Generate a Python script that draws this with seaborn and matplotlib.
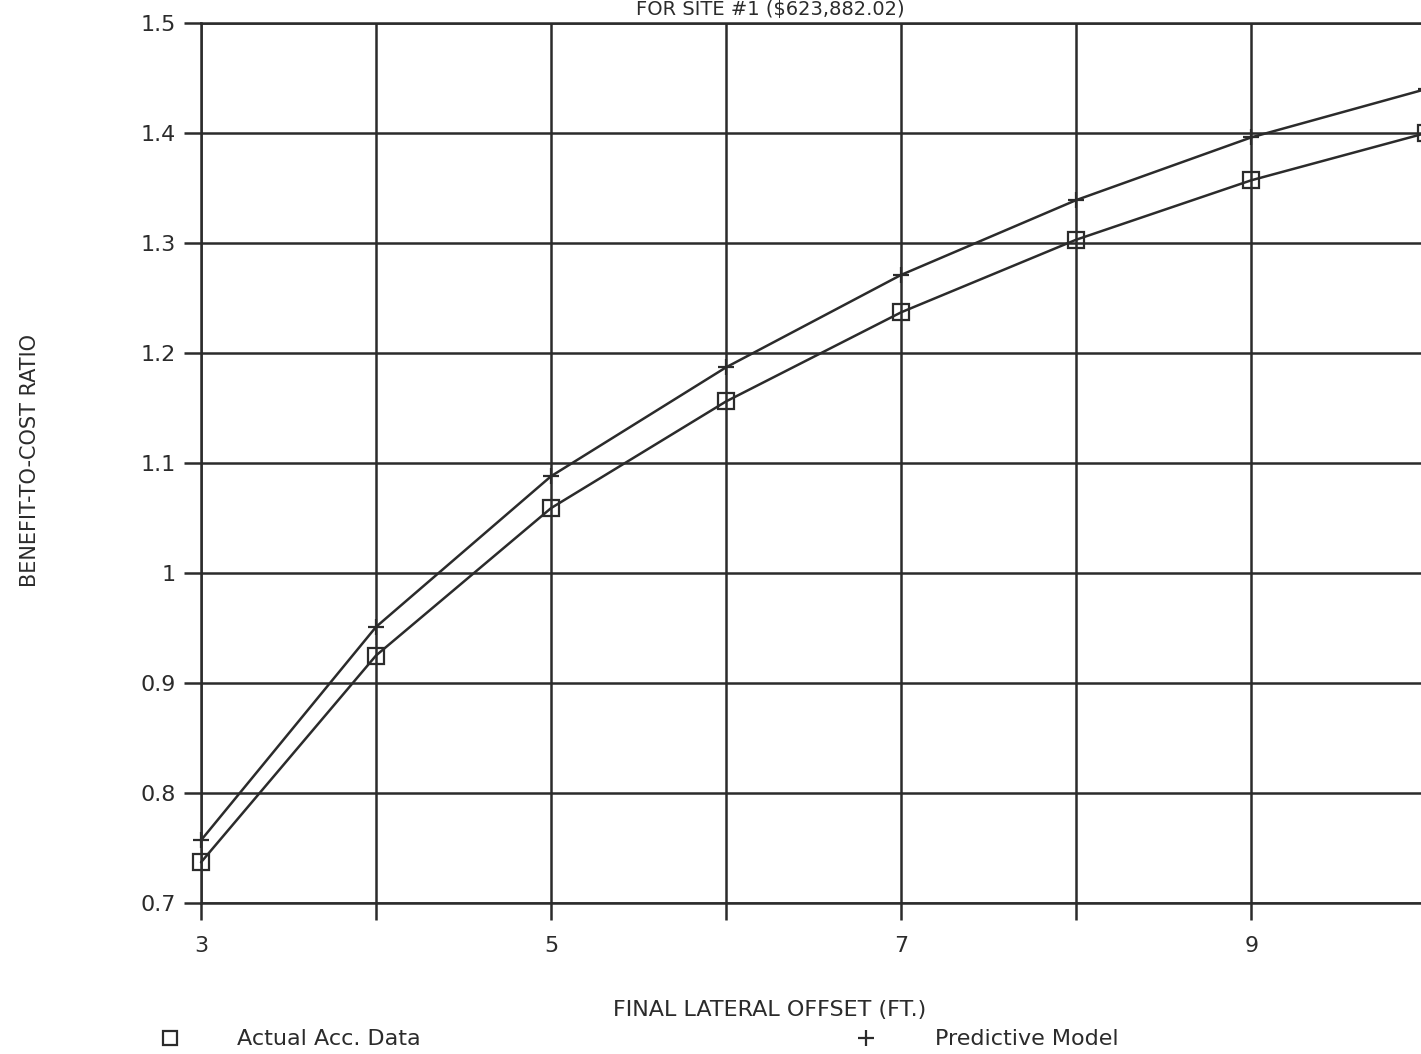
import numpy as np
import pandas as pd
import matplotlib
matplotlib.use("Agg")
import matplotlib.pyplot as plt
import seaborn as sns

offset = [3, 4, 5, 6, 7, 8, 9, 10]
actual = [0.737, 0.925, 1.059, 1.156, 1.237, 1.303, 1.357, 1.400]
predicted = [0.757, 0.951, 1.088, 1.187, 1.271, 1.339, 1.396, 1.440]
xticks = [3, 5, 7, 9]
yticks = [0.7, 0.8, 0.9, 1.0, 1.1, 1.2, 1.3, 1.4, 1.5]
ytick_labels = ["0.7", "0.8", "0.9", "1", "1.1", "1.2", "1.3", "1.4", "1.5"]

sns.set_theme(style="white")
plt.rcParams['font.family'] = ['DejaVu Sans']
ink = "#2b2b2b"

fig = plt.figure(figsize=(14.21, 10.54), dpi=100)
ax = fig.add_axes([201/1421, 1 - 903/1054, 1 - 201/1421, (903 - 23)/1054])

df = pd.DataFrame({"x": offset, "actual": actual, "pred": predicted})
sns.lineplot(data=df, x="x", y="actual", ax=ax, color=ink, lw=1.8,
             marker="s", markersize=12, markerfacecolor="none",
             markeredgecolor=ink, markeredgewidth=1.6, clip_on=False)
sns.lineplot(data=df, x="x", y="pred", ax=ax, color=ink, lw=1.8,
             marker="+", markersize=11, markeredgecolor=ink,
             markeredgewidth=1.6, clip_on=False)

ax.set_xlim(3, 9.97)
ax.set_ylim(0.7, 1.5)
ax.set_xticks(range(3, 10))
ax.set_xticklabels([str(v) if v in xticks else "" for v in range(3, 10)])
ax.set_yticks(yticks)
ax.set_yticklabels(ytick_labels)
ax.grid(True, color=ink, lw=1.8)
ax.set_axisbelow(True)
ax.spines["right"].set_visible(False)
for s in ["left", "top", "bottom"]:
    ax.spines[s].set_color(ink)
    ax.spines[s].set_linewidth(1.8)
ax.tick_params(axis="both", direction="out", length=12, width=1.8,
               color=ink, labelsize=16, labelcolor=ink, pad=6,
               bottom=True, left=True)
ax.tick_params(axis="x", pad=12)
ax.set_xlabel("")
ax.set_ylabel("")

fig.text(30/1421, 1 - 460/1054, "BENEFIT-TO-COST RATIO", rotation=90,
         ha="center", va="center", fontsize=15, color=ink)
fig.text(770/1421, 1 - 1010/1054, "FINAL LATERAL OFFSET (FT.)",
         ha="center", va="center", fontsize=16, color=ink)
fig.text(770/1421, 1 - 10/1054, r"FOR SITE #1 (\$623,882.02)",
         ha="center", va="center", fontsize=14, color=ink)

# legend row
fig.lines.append(plt.Line2D([170/1421], [1 - 1038/1054], transform=fig.transFigure,
                            marker="s", markersize=10, markerfacecolor="none",
                            markeredgecolor=ink, markeredgewidth=1.6, ls="none"))
fig.text(237/1421, 1 - 1039/1054, "Actual Acc. Data", ha="left", va="center",
         fontsize=16, color=ink)
fig.lines.append(plt.Line2D([866/1421], [1 - 1038/1054], transform=fig.transFigure,
                            marker="+", markersize=12, markeredgecolor=ink,
                            markeredgewidth=1.6, ls="none"))
fig.text(935/1421, 1 - 1039/1054, "Predictive Model", ha="left", va="center",
         fontsize=16, color=ink)

fig.savefig("out.png", dpi=100, facecolor="white")
